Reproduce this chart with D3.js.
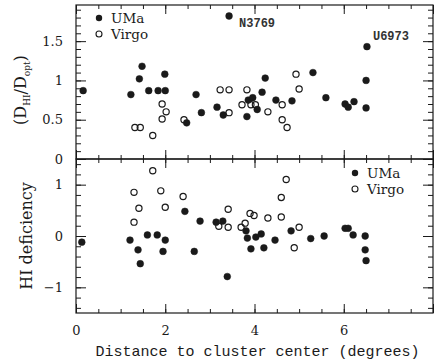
<!DOCTYPE html>
<html>
<head>
<meta charset="utf-8">
<script src="https://cdn.jsdelivr.net/npm/d3@7"></script>
<style>
  body { margin: 0; background: #fff; }
  svg { display: block; }
</style>
</head>
<body>
<div id="chart"></div>
<script>
// Data
// upper panel: HI diameter / optical diameter
const umaDistTop = [0.16, 1.23, 1.42, 1.48, 1.63, 1.84, 1.99, 2.0, 2.48, 2.69, 2.81, 3.16, 3.3, 3.43, 3.83, 3.86, 3.96, 4.06, 4.17, 4.24, 4.48, 4.84, 5.31, 5.6, 6.03, 6.1, 6.23, 6.5, 6.52, 6.5];
const umaRatio = [0.87, 0.82, 1.02, 1.18, 0.87, 0.87, 1.08, 0.87, 0.46, 0.82, 0.59, 0.66, 0.56, 1.82, 0.54, 0.75, 0.78, 0.63, 0.85, 1.03, 0.75, 0.74, 1.10, 0.78, 0.70, 0.66, 0.73, 1.0, 1.43, 0.65];
const virgoDistTop = [1.32, 1.44, 1.72, 1.93, 1.93, 2.02, 2.42, 3.23, 3.43, 3.43, 3.72, 3.83, 3.92, 4.02, 4.3, 4.62, 4.62, 4.73, 4.93, 5.0];
const virgoRatio = [0.40, 0.40, 0.30, 0.51, 0.70, 0.60, 0.50, 0.88, 0.88, 0.59, 0.69, 0.88, 0.69, 0.69, 0.60, 0.69, 0.50, 0.40, 1.08, 0.89];
const labelled = [{ name: "N3769", d: 3.43, v: 1.82 }, { name: "U6973", d: 6.52, v: 1.43 }];

// lower panel: HI deficiency
const umaDistBot = [0.13, 1.21, 1.39, 1.44, 1.6, 1.82, 1.95, 2.0, 2.44, 2.65, 2.78, 3.14, 3.29, 3.39, 3.81, 3.84, 3.92, 4.03, 4.15, 4.21, 4.46, 4.82, 5.26, 5.56, 6.03, 6.1, 6.21, 6.48, 6.48, 6.5];
const umaDef = [-0.12, -0.08, -0.27, -0.54, 0.02, 0.02, -0.3, -0.08, 0.48, -0.3, 0.29, 0.27, 0.29, -0.79, 0.1, -0.04, -0.25, -0.02, 0.04, -0.23, -0.08, 0.1, -0.05, 0.0, 0.15, 0.15, 0.02, 0.0, -0.27, -0.48];
const virgoDistBot = [1.3, 1.3, 1.41, 1.72, 1.9, 2.0, 2.4, 3.2, 3.41, 3.41, 3.7, 3.79, 3.9, 3.99, 4.3, 4.6, 4.71, 4.6, 5.0, 4.89];
const virgoDef = [0.85, 0.27, 0.54, 1.27, 0.88, 0.56, 0.77, 0.19, 0.52, 0.17, 0.17, 0.25, 0.44, 0.4, 0.35, 0.75, 1.1, 0.37, 0.17, -0.23];

const xMajor = [0, 2, 4, 6, 8];
const xLabels = ["0", "2", "4", "6"];
const topMajor = [0, 0.5, 1, 1.5];
const topLabels = ["0", "0.5", "1", "1.5"];
const botMajor = [-1, 0, 1];
const botLabels = ["\u22121", "0", "1"];

// Dimensions
const width = 436, height = 364;
const plotLeft = 76, plotRight = 433, plotTop = 5, plotMid = 159, plotBottom = 313;
const ink = "#1a1a1a";

const svg = d3.select("#chart").append("svg")
  .attr("width", width).attr("height", height);

// Scales
const x = d3.scaleLinear().domain([0, 8]).range([plotLeft, plotRight]);
const yTop = d3.scaleLinear().domain([0, 1.96]).range([plotMid, plotTop]);
const yBot = d3.scaleLinear().domain([-1.5, 1.5]).range([plotBottom, plotMid]);

const xMinor = d3.range(0, 8.01, 0.5);
const topMinor = d3.range(0, 1.96, 0.1);
const botMinor = d3.range(-1.4, 1.41, 0.2);

function styleAxis(g) {
  g.select(".domain").remove();
  g.selectAll("line").attr("stroke", ink).attr("stroke-width", 1);
  g.selectAll("text").attr("fill", ink)
    .attr("font-family", "DejaVu Serif").attr("font-size", 13);
}

// Ticks for one panel (all four sides, pointing inward)
function drawTicks(y, yMinor, yMajor, yLab, showX) {
  const y0 = y.range()[0], y1 = y.range()[1];
  const fmtY = (d) => yLab[yMajor.indexOf(d)];
  const fmtX = (d) => { const i = xMajor.indexOf(d); return i >= 0 && i < xLabels.length ? xLabels[i] : ""; };

  svg.append("g").attr("transform", `translate(${plotLeft},0)`)
    .call(d3.axisLeft(y).tickValues(yMinor).tickSize(-5).tickFormat("")).call(styleAxis);
  svg.append("g").attr("transform", `translate(${plotLeft},0)`)
    .call(d3.axisLeft(y).tickValues(yMajor).tickSize(-10).tickPadding(13).tickFormat(fmtY)).call(styleAxis);
  svg.append("g").attr("transform", `translate(${plotRight},0)`)
    .call(d3.axisRight(y).tickValues(yMinor).tickSize(-5).tickFormat("")).call(styleAxis);
  svg.append("g").attr("transform", `translate(${plotRight},0)`)
    .call(d3.axisRight(y).tickValues(yMajor).tickSize(-10).tickFormat("")).call(styleAxis);

  svg.append("g").attr("transform", `translate(0,${y1})`)
    .call(d3.axisTop(x).tickValues(xMinor).tickSize(-4).tickFormat("")).call(styleAxis);
  svg.append("g").attr("transform", `translate(0,${y1})`)
    .call(d3.axisTop(x).tickValues(xMajor).tickSize(-9).tickFormat("")).call(styleAxis);
  svg.append("g").attr("transform", `translate(0,${y0})`)
    .call(d3.axisBottom(x).tickValues(xMinor).tickSize(-4).tickFormat("")).call(styleAxis);
  svg.append("g").attr("transform", `translate(0,${y0})`)
    .call(d3.axisBottom(x).tickValues(xMajor).tickSize(-9).tickPadding(13)
      .tickFormat(showX ? fmtX : "")).call(styleAxis);

  svg.append("rect")
    .attr("x", plotLeft).attr("y", y1)
    .attr("width", plotRight - plotLeft).attr("height", y0 - y1)
    .attr("fill", "none").attr("stroke", ink).attr("stroke-width", 1.2);
}

drawTicks(yTop, topMinor, topMajor, topLabels, false);
drawTicks(yBot, botMinor, botMajor, botLabels, true);

// Markers
function drawPoints(xs, ys, y, filled) {
  svg.append("g").selectAll("circle")
    .data(xs.map((d, i) => [d, ys[i]]))
    .join("circle")
    .attr("cx", (d) => x(d[0]))
    .attr("cy", (d) => y(d[1]))
    .attr("r", filled ? 3.4 : 3.1)
    .attr("fill", filled ? ink : "none")
    .attr("stroke", ink)
    .attr("stroke-width", filled ? 0.5 : 1.2);
}
drawPoints(virgoDistTop, virgoRatio, yTop, false);
drawPoints(umaDistTop, umaRatio, yTop, true);
drawPoints(virgoDistBot, virgoDef, yBot, false);
drawPoints(umaDistBot, umaDef, yBot, true);

// Galaxy labels
const labelOffset = { N3769: [10, 11], U6973: [6, -7] };
svg.append("g").selectAll("text")
  .data(labelled)
  .join("text")
  .attr("x", (d) => x(d.d) + labelOffset[d.name][0])
  .attr("y", (d) => yTop(d.v) + labelOffset[d.name][1])
  .attr("font-family", "Liberation Mono")
  .attr("font-weight", "bold")
  .attr("font-size", 12)
  .attr("fill", "#333")
  .text((d) => d.name);

// Legends
function legend(lx, ly) {
  const g = svg.append("g").attr("transform", `translate(${lx},${ly})`);
  g.append("circle").attr("cx", 0).attr("cy", 0).attr("r", 3.2).attr("fill", ink);
  g.append("circle").attr("cx", 0).attr("cy", 16).attr("r", 3).attr("fill", "none")
    .attr("stroke", ink).attr("stroke-width", 1.1);
  g.append("text").attr("x", 12).attr("y", 5).text("UMa");
  g.append("text").attr("x", 12).attr("y", 21).text("Virgo");
  g.selectAll("text").attr("font-family", "DejaVu Serif").attr("font-size", 13.5).attr("fill", ink);
}
legend(99, 18);
legend(355, 173);

// Axis titles
const tTop = svg.append("text")
  .attr("transform", `translate(26,${(plotTop + plotMid) / 2 + 8}) rotate(-90)`)
  .attr("text-anchor", "middle")
  .attr("font-family", "DejaVu Serif").attr("font-size", 16).attr("fill", ink);
tTop.append("tspan").text("(D");
tTop.append("tspan").attr("font-size", 9).attr("dy", 4).text("HI");
tTop.append("tspan").attr("dy", -4).text("/D");
tTop.append("tspan").attr("font-size", 9).attr("dy", 4).text("opt");
tTop.append("tspan").attr("dy", -4).text(")");

svg.append("text")
  .attr("transform", `translate(32,${yBot(0)}) rotate(-90)`)
  .attr("text-anchor", "middle")
  .attr("font-family", "DejaVu Serif").attr("font-size", 16).attr("fill", ink)
  .text("HI deficiency");

svg.append("text")
  .attr("x", (plotLeft + plotRight) / 2 + 3).attr("y", 356)
  .attr("text-anchor", "middle")
  .attr("font-family", "Liberation Mono").attr("font-size", 15).attr("fill", ink)
  .text("Distance to cluster center (degrees)");
</script>
</body>
</html>
